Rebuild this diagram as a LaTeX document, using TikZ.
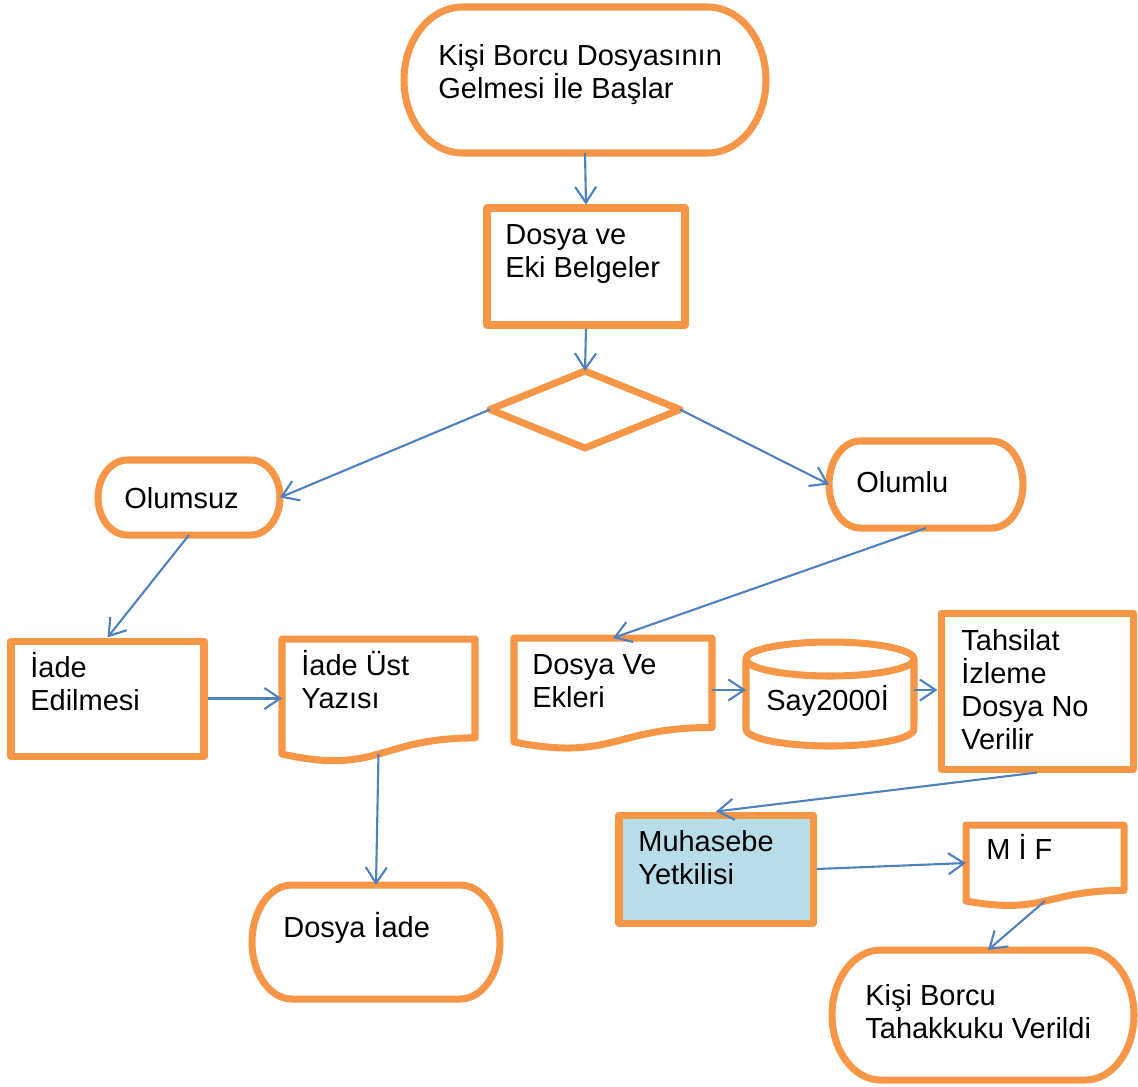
\documentclass[tikz,border=0pt]{standalone}
\usepackage{fontspec}
\setmainfont{Liberation Sans}
\usetikzlibrary{arrows.meta,calc,fit}

\definecolor{turuncu}{HTML}{F79646}
\definecolor{mavi}{HTML}{4F81BD}
\definecolor{acikmavi}{HTML}{B7DEE8}
\newcommand\yazifont{\fontsize{16.5}{18.8}\selectfont}

\tikzset{
  cizgi/.style={draw=turuncu, line width=4pt, line join=round},
  kutu/.style={cizgi, inner sep=0pt, outer sep=2pt},
  bos/.style={inner sep=0pt, outer sep=0pt},
  yazi/.style={anchor=north west, align=left, inner sep=0pt, font=\yazifont},
  ok/.style={draw=mavi, line width=1.2pt, -{Straight Barb[length=9pt,width=12pt]}}
}

% uc: baslangic / bitis sekli (isim, x1, y1, x2, y2)
\newcommand\uc[5]{%
  \pgfmathsetmacro\ucrx{0.161*(#4-#2)}%
  \pgfmathsetmacro\ucry{0.5*(#5-#3)}%
  \node[bos, fit={(#2,#3) (#4,#5)}] (#1) {};
  \draw[cizgi] (#2+\ucrx,#3) -- (#4-\ucrx,#3)
    arc[start angle=90, end angle=-90, x radius=\ucrx*0.02cm, y radius=\ucry*0.02cm]
    -- (#2+\ucrx,#5)
    arc[start angle=270, end angle=90, x radius=\ucrx*0.02cm, y radius=\ucry*0.02cm]
    -- cycle;}

% belge sekli
\newcommand\belge[1]{%
  \draw[cizgi] (#1.north west) -- (#1.north east)
    -- ($(#1.north east)!0.86!(#1.south east)$)
    .. controls ($(#1.north)!0.86!(#1.south)$) and ($(#1.north)!1.187!(#1.south)$)
    .. (#1.south west) -- cycle;}

\begin{document}
\begin{tikzpicture}[x=0.02cm, y=-0.02cm]
\useasboundingbox (0,0) rectangle (1138,1086);

% baslangic
\uc{baslangic}{404}{7}{766}{153}
\node[yazi] (tbaslangic) at (438,44) {Kişi Borcu Dosyasının\\Gelmesi İle Başlar};

\node[kutu, fit={(487,208) (685,325)}] (dosya) {};
\node[yazi] (tdosya) at (505,224) {Dosya ve\\Eki Belgeler};

% karar
\node[bos, fit={(490,371) (680,448)}] (karar) {};
\draw[cizgi] (karar.north) -- (karar.east) -- (karar.south) -- (karar.west) -- cycle;

\uc{olumsuz}{98}{460}{280}{535}
\node[yazi] (tolumsuz) at (124,487) {Olumsuz};
\uc{olumlu}{829}{441}{1023}{528}
\node[yazi] (tolumlu) at (856,471) {Olumlu};

% sol kol
\node[kutu, fit={(11,641) (204,756)}] (iade) {};
\node[yazi] (tiade) at (30,652) {İade\\Edilmesi};
\node[bos, fit={(282,639) (475,754)}] (ust) {};
\belge{ust}
\node[yazi] (tust) at (301,650) {İade Üst\\Yazısı};
\uc{iadedosya}{252}{885}{500}{999}
\node[yazi] (tiadedosya) at (283,912) {Dosya İade};

% sag kol
\node[bos, fit={(514,638) (712,742)}] (ekler) {};
\belge{ekler}
\node[yazi] (tekler) at (532,654) {Dosya Ve\\Ekleri};
\node[bos, fit={(746,642) (914,746)}] (db) {};
\draw[cizgi] ($(db.north west)+(0,17)$) -- ($(db.south west)+(0,-17)$)
  arc[start angle=180, end angle=360, x radius=1.68cm, y radius=0.34cm]
  -- ($(db.north east)+(0,17)$);
\draw[cizgi] ($(db.north)+(0,17)$) ellipse[x radius=1.68cm, y radius=0.34cm];
\node[yazi] (tdb) at (766,685) {Say2000İ};
\node[kutu, fit={(941,613) (1133,769)}] (tahsilat) {};
\node[yazi] (ttahsilat) at (961,629) {Tahsilat\\İzleme\\Dosya No\\Verilir};

\node[kutu, fill=acikmavi, fit={(619,815) (813,923)}] (muhasebe) {};
\node[yazi] (tmuhasebe) at (638,830) {Muhasebe\\Yetkilisi};
\node[bos, fit={(966,825) (1124,901)}] (mif) {};
\belge{mif}
\node[yazi] (tmif) at (986,834) {M İ F};
\uc{kisi}{832}{950}{1134}{1080}
\node[yazi] (tkisi) at (865,984) {Kişi Borcu\\Tahakkuku Verildi};

% oklar
\draw[ok] (baslangic.south) -- (dosya.north);
\draw[ok] (dosya.south) -- (karar.north);
\draw[ok] (karar.west) -- (olumsuz.east);
\draw[ok] (karar.east) -- (olumlu.west);
\draw[ok] (olumsuz.south) -- (iade.north);
\draw[ok] (olumlu.south) -- (ekler.north);
\draw[ok] (iade.east) -- (iade.east -| ust.west);
\draw[ok] (ust.south) -- (iadedosya.north);
\draw[ok] (ekler.east) -- (ekler.east -| db.west);
\draw[ok] (db.east |- ekler.east) -- (ekler.east -| tahsilat.west);
\draw[ok] (tahsilat.south) -- (muhasebe.north);
\draw[ok] (muhasebe.east) -- (mif.west);
\draw[ok] (mif.south) -- ($(kisi.north)+(5,0)$);
\end{tikzpicture}
\end{document}
